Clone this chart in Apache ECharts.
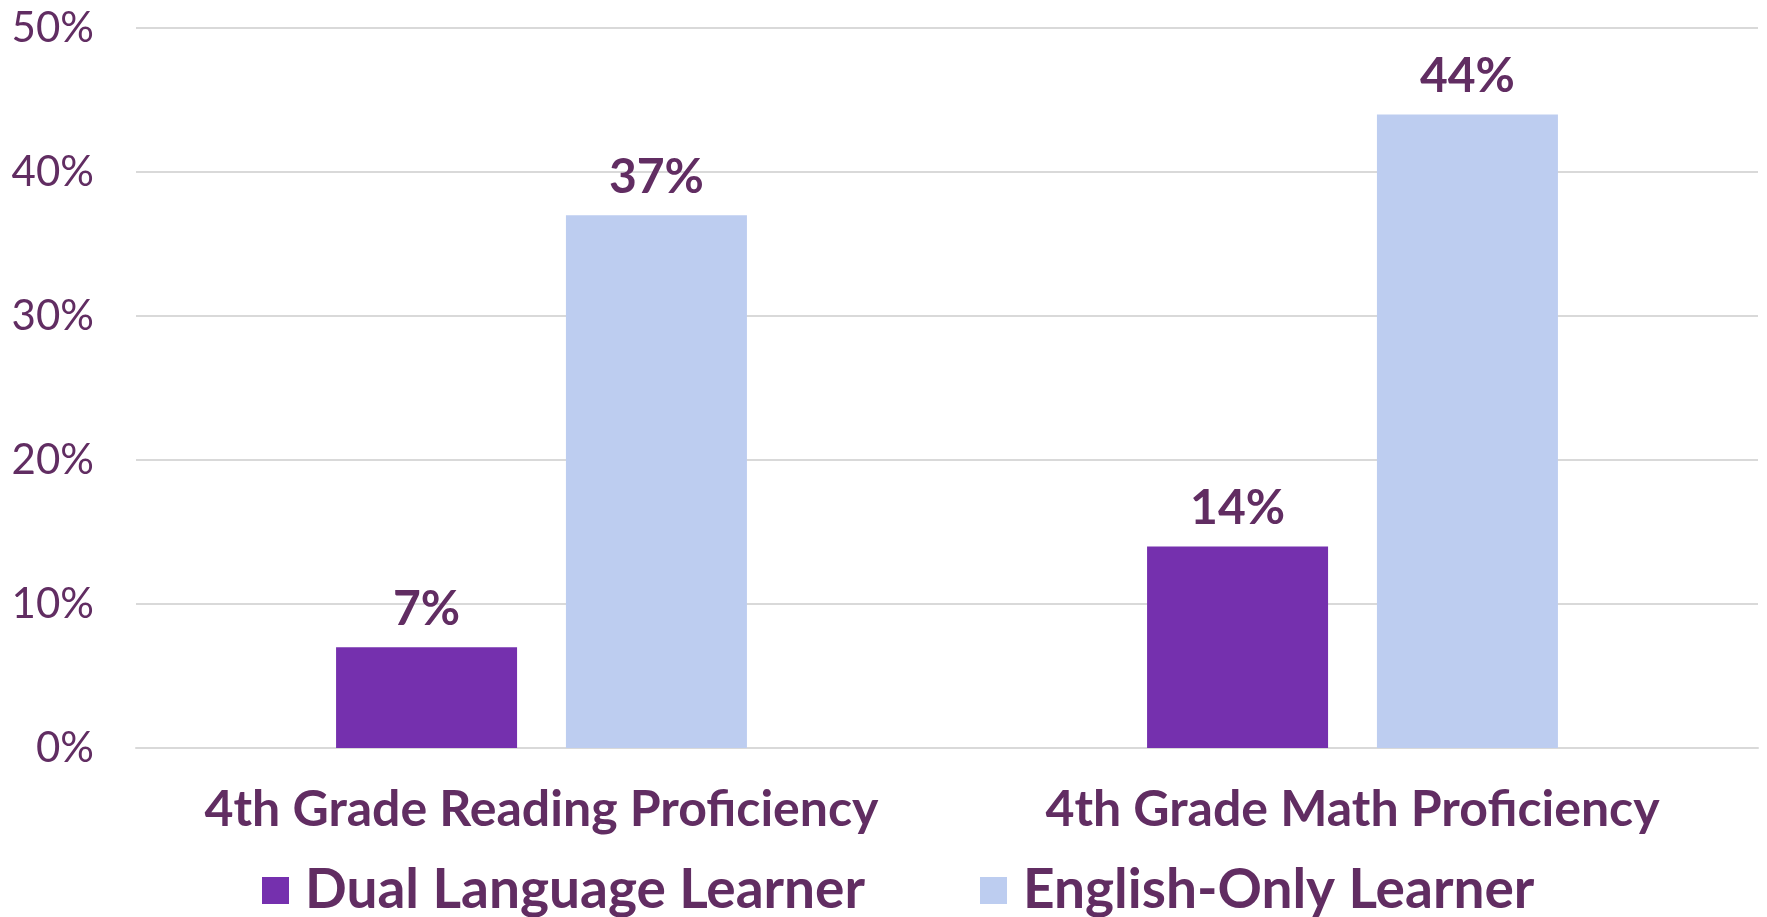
<!DOCTYPE html>
<html>
<head>
<meta charset="utf-8">
<script src="https://cdn.jsdelivr.net/npm/echarts@6/dist/echarts.min.js"></script>
<style>
  html, body { margin: 0; padding: 0; background: #fff; }
  #chart { width: 1767px; height: 917px; }
</style>
</head>
<body>
<div id="chart"></div>
<script>
// Chart data
const categories = ['4th Grade Reading Proficiency', '4th Grade Math Proficiency'];
const seriesNames = ['Dual Language Learner', 'English-Only Learner'];
const dualLanguage = [7, 14];
const englishOnly = [37, 44];
const yTicks = [0, 10, 20, 30, 40, 50];

const textColor = '#612d62';
const barColors = ['#7530ae', '#bdcdf0'];
const fontFamily = 'Lato, "Open Sans", sans-serif';

const chart = echarts.init(document.getElementById('chart'));

const labelStyle = {
  show: true,
  position: 'top',
  distance: 14,
  formatter: '{c}%',
  color: textColor,
  fontFamily: fontFamily,
  fontWeight: 'bold',
  fontSize: 48
};

const option = {
  backgroundColor: '#fff',
  animation: false,
  grid: {
    left: 136,
    right: 9,
    top: 28,
    bottom: 169
  },
  legend: {
    data: seriesNames,
    left: 257,
    top: 858,
    itemWidth: 27,
    itemHeight: 27,
    itemGap: 115,
    icon: 'rect',
    textStyle: {
      color: textColor,
      fontFamily: fontFamily,
      fontWeight: 'bold',
      fontSize: 55,
      padding: [0, 0, 0, 11]
    }
  },
  xAxis: {
    type: 'category',
    data: categories,
    axisTick: { show: false },
    axisLine: { lineStyle: { color: '#d9d9d9', width: 2 } },
    axisLabel: {
      interval: 0,
      hideOverlap: false,
      color: textColor,
      fontFamily: fontFamily,
      fontWeight: 'bold',
      fontSize: 50,
      margin: 37
    }
  },
  yAxis: {
    type: 'value',
    min: yTicks[0],
    max: yTicks[yTicks.length - 1],
    interval: 10,
    axisLine: { show: false },
    axisTick: { show: false },
    axisLabel: {
      color: textColor,
      fontFamily: fontFamily,
      fontSize: 42,
      margin: 42,
      formatter: '{value}%'
    },
    splitLine: { lineStyle: { color: '#d9d9d9', width: 2 } }
  },
  series: [
    {
      name: seriesNames[0],
      type: 'bar',
      barWidth: 181,
      barGap: '27%',
      itemStyle: { color: barColors[0] },
      label: labelStyle,
      data: dualLanguage
    },
    {
      name: seriesNames[1],
      type: 'bar',
      barWidth: 181,
      itemStyle: { color: barColors[1] },
      label: labelStyle,
      data: englishOnly
    }
  ]
};

chart.setOption(option);
</script>
</body>
</html>
